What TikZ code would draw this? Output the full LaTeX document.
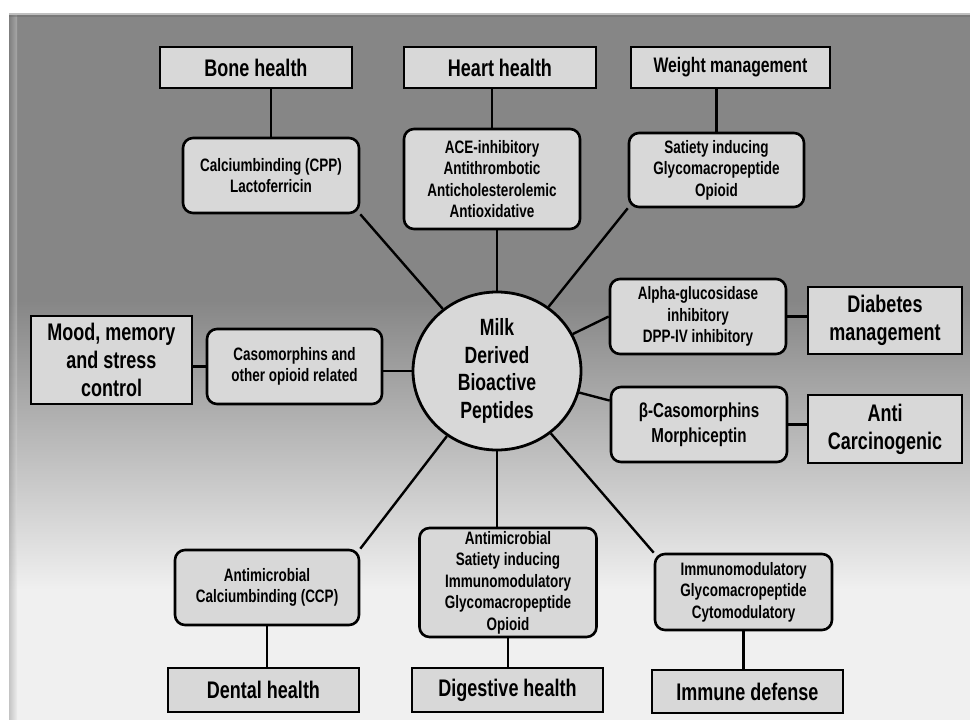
\documentclass[tikz,border=0pt]{standalone}
\usepackage{fontspec}
\setmainfont{Liberation Sans}[FakeStretch=0.75]
\usetikzlibrary{shapes.geometric}

\definecolor{panelgray}{RGB}{134,134,134}
\definecolor{panellight}{RGB}{240,240,240}
\definecolor{boxgray}{RGB}{216,216,216}

\tikzset{
  outbox/.style={draw, fill=boxgray, line width=2.6pt, inner sep=0pt, align=center,
    font=\bfseries\fontsize{24}{28}\selectfont},
  pepbox/.style={draw, fill=boxgray, line width=2.6pt, rounded corners=10pt, inner sep=0pt,
    align=center, font=\bfseries\fontsize{18}{21.5}\selectfont},
  hub/.style={ellipse, draw, fill=boxgray, line width=2.8pt, inner sep=0pt,
    minimum width=168pt, minimum height=158pt, align=center,
    font=\bfseries\fontsize{23.5}{27.7}\selectfont},
  link/.style={line width=2.4pt}
}

\begin{document}
\begin{tikzpicture}[x=1pt, y=-1pt]
\useasboundingbox (0,0) rectangle (970,720);

\fill[white] (0,0) rectangle (970,720);
\fill[panelgray] (9,13) rectangle (970,300);
\shade[top color=panelgray, bottom color=panellight] (9,300) rectangle (970,590);
\fill[panellight] (9,590) rectangle (970,720);
\shade[left color=black!55, right color=black!10, opacity=0.35] (9,13) rectangle (17,720);
\fill[black!25] (9,13) rectangle (970,14.5);
\fill[black!60, opacity=0.4] (9,14.5) rectangle (970,17);

\def\ytop{67.5}
\def\ybot{690}

\node[hub] (milk) at (497,371) {Milk\\Derived\\Bioactive\\Peptides};

\node[outbox, minimum width=192pt, minimum height=41pt] (bone) at (256,\ytop) {Bone health};
\node[outbox, minimum width=192pt, minimum height=41pt] (heart) at (500,\ytop) {Heart health};
\node[outbox, minimum width=199pt, minimum height=41pt,
  font=\bfseries\fontsize{21}{24}\selectfont] (weight) at (730.5,\ytop) {Weight management};
\node[outbox, minimum width=154pt, minimum height=67pt] (diab) at (885,320.5) {Diabetes\\management};
\node[outbox, minimum width=154pt, minimum height=68pt] (canc) at (885,429) {Anti\\Carcinogenic};
\node[outbox, minimum width=161pt, minimum height=88pt] (mood) at (111.5,360) {Mood, memory\\and stress\\control};
\node[outbox, minimum width=191pt, minimum height=44pt] (dental) at (263.5,\ybot) {Dental health};
\node[outbox, minimum width=191pt, minimum height=44pt] (dig) at (507.5,\ybot) {Digestive health};
\node[outbox, minimum width=191pt, minimum height=43pt] (imm) at (747.5,691.5) {Immune defense};

\node[pepbox, minimum width=176pt, minimum height=75pt] (bonepep) at (271,175.5) {Calciumbinding (CPP)\\Lactoferricin};
\node[pepbox, minimum width=176pt, minimum height=100pt] (heartpep) at (492,179) {ACE-inhibitory\\Antithrombotic\\Anticholesterolemic\\Antioxidative};
\node[pepbox, minimum width=175pt, minimum height=74pt] (weightpep) at (716.5,170) {Satiety inducing\\Glycomacropeptide\\Opioid};
\node[pepbox, minimum width=176pt, minimum height=75pt] (diabpep) at (698,316.5) {Alpha-glucosidase\\inhibitory\\DPP-IV inhibitory};
\node[pepbox, minimum width=176pt, minimum height=75pt,
  font=\bfseries\fontsize{20.2}{25}\selectfont] (cancpep) at (699,424.5) {β-Casomorphins\\Morphiceptin};
\node[pepbox, minimum width=175pt, minimum height=75pt] (moodpep) at (294.5,366.5) {Casomorphins and\\other opioid related};
\node[pepbox, minimum width=184pt, minimum height=75pt] (dentpep) at (267,587.5) {Antimicrobial\\Calciumbinding (CCP)};
\node[pepbox, minimum width=177pt, minimum height=109pt] (digpep) at (508,582.5) {Antimicrobial\\Satiety inducing\\Immunomodulatory\\Glycomacropeptide\\Opioid};
\node[pepbox, minimum width=177pt, minimum height=76pt] (immpep) at (743.5,592) {Immunomodulatory\\Glycomacropeptide\\Cytomodulatory};

\draw[link] (bonepep.north) -- (bonepep.north |- bone.south);
\draw[link] (heartpep.north) -- (heartpep.north |- heart.south);
\draw[link] (weightpep.north) -- (weightpep.north |- weight.south);
\draw[link] (moodpep.west) -- (moodpep.west -| mood.east);
\draw[link] (diabpep.east) -- (diabpep.east -| diab.west);
\draw[link] (cancpep.east) -- (cancpep.east -| canc.west);
\draw[link] (dentpep.south) -- (dentpep.south |- dental.north);
\draw[link] (digpep.south) -- (digpep.south |- dig.north);
\draw[link] (immpep.south) -- (immpep.south |- imm.north);

\draw[link] (milk) -- (bonepep.south east);
\draw[link] (milk.north) -- (milk.north |- heartpep.south);
\draw[link] (milk) -- (weightpep.south west);
\draw[link] (milk) -- (diabpep.west);
\draw[link] (milk) -- (cancpep.165);
\draw[link] (milk.west) -- (milk.west -| moodpep.east);
\draw[link] (milk) -- (dentpep.north east);
\draw[link] (milk.south) -- (milk.south |- digpep.north);
\draw[link] (milk) -- (immpep.north west);
\end{tikzpicture}
\end{document}
